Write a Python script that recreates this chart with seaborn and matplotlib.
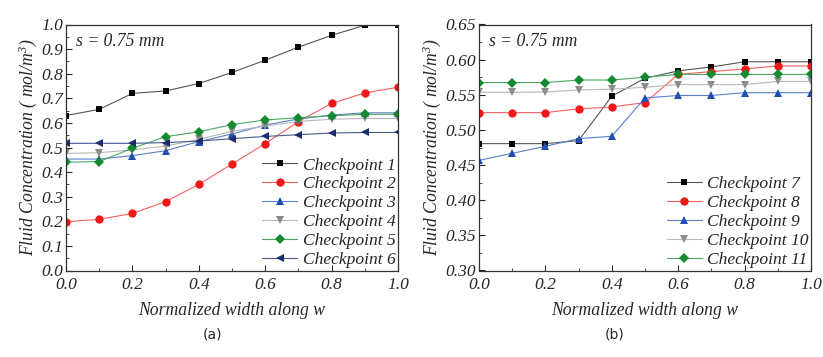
import numpy as np
import pandas as pd
import matplotlib
matplotlib.use('Agg')
import matplotlib.pyplot as plt
import seaborn as sns
from matplotlib.ticker import MultipleLocator
from matplotlib import font_manager

# ширина (нормалізована)
width = [0.0, 0.1, 0.2, 0.3, 0.4, 0.5, 0.6, 0.7, 0.8, 0.9, 1.0]

# панель (a)
cp1 = [0.63, 0.655, 0.72, 0.73, 0.76, 0.805, 0.855, 0.908, 0.956, 0.997, 0.997]
cp2 = [0.198, 0.208, 0.232, 0.28, 0.35, 0.433, 0.516, 0.605, 0.679, 0.722, 0.745]
cp3 = [0.453, 0.453, 0.467, 0.487, 0.524, 0.555, 0.591, 0.616, 0.632, 0.641, 0.641]
cp4 = [0.476, 0.479, 0.49, 0.506, 0.533, 0.566, 0.587, 0.606, 0.615, 0.618, 0.618]
cp5 = [0.44, 0.443, 0.497, 0.544, 0.564, 0.593, 0.612, 0.621, 0.629, 0.635, 0.635]
cp6 = [0.517, 0.517, 0.517, 0.52, 0.526, 0.536, 0.545, 0.552, 0.559, 0.561, 0.561]

# панель (b)
cp7 = [0.4805, 0.4805, 0.4805, 0.4848, 0.548, 0.5735, 0.584, 0.5896, 0.597, 0.597, 0.597]
cp8 = [0.5246, 0.5246, 0.5246, 0.53, 0.5326, 0.539, 0.579, 0.583, 0.5868, 0.591, 0.591]
cp9 = [0.4567, 0.4667, 0.4767, 0.4876, 0.491, 0.5455, 0.549, 0.549, 0.553, 0.553, 0.553]
cp10 = [0.5536, 0.5536, 0.554, 0.5568, 0.558, 0.5607, 0.5645, 0.5645, 0.5645, 0.569, 0.569]
cp11 = [0.5674, 0.5674, 0.5674, 0.571, 0.571, 0.575, 0.579, 0.579, 0.579, 0.579, 0.579]

labels_a = ['Checkpoint 1', 'Checkpoint 2', 'Checkpoint 3', 'Checkpoint 4', 'Checkpoint 5', 'Checkpoint 6']
labels_b = ['Checkpoint 7', 'Checkpoint 8', 'Checkpoint 9', 'Checkpoint 10', 'Checkpoint 11']

xticks = [0.0, 0.2, 0.4, 0.6, 0.8, 1.0]
yticks_a = [0.0, 0.1, 0.2, 0.3, 0.4, 0.5, 0.6, 0.7, 0.8, 0.9, 1.0]
yticks_b = [0.30, 0.35, 0.40, 0.45, 0.50, 0.55, 0.60, 0.65]

sns.set_style('ticks')
plt.rcParams['font.family'] = 'serif'
plt.rcParams['font.serif'] = ['Liberation Serif', 'DejaVu Serif']
plt.rcParams['font.style'] = 'italic'
plt.rcParams['mathtext.fontset'] = 'custom'
plt.rcParams['mathtext.it'] = 'Liberation Serif:italic'
plt.rcParams['mathtext.rm'] = 'Liberation Serif:italic'
plt.rcParams['font.size'] = 12.5

fp = font_manager.FontProperties(family='Liberation Serif', style='italic', size=12.7)
fp_tick = font_manager.FontProperties(family='Liberation Serif', style='italic', size=12.5)
fp_leg = font_manager.FontProperties(family='Liberation Serif', style='italic', size=12.6)

colors = ['#000000', '#f01818', '#1f4fb0', '#8c8c8c', '#138a30', '#1c2d6e']
line_colors = ['#555555', '#f56060', '#5a80c8', '#b8b8b8', '#4aa862', '#4a5a90']
markers = ['s', 'o', '^', 'v', 'D', '<']
msizes = [5, 6, 6, 6, 5, 6]

fig = plt.figure(figsize=(8.23, 3.57), dpi=100)
ax1 = fig.add_axes([66 / 823, 1 - 270.5 / 357, 332 / 823, 246 / 357])
ax2 = fig.add_axes([479 / 823, 1 - 270.5 / 357, 332 / 823, 246 / 357])


def draw(ax, series, labels, yticks, yfmt):
    for i, (vals, lab) in enumerate(zip(series, labels)):
        sns.lineplot(x=width, y=vals, ax=ax, color=line_colors[i], marker=markers[i],
                     markersize=msizes[i], markeredgewidth=0, linewidth=0.8,
                     label=lab, alpha=1)
        ax.lines[-1].set_markerfacecolor(colors[i])
    ax.set_xlim(0, 1.0)
    ax.set_ylim(yticks[0], yticks[-1])
    ax.set_xticks(xticks)
    ax.set_xticklabels(['%.1f' % v for v in xticks], fontproperties=fp_tick)
    ax.set_yticks(yticks)
    ax.set_yticklabels([yfmt % v for v in yticks], fontproperties=fp_tick,
                       va='center_baseline')
    ax.xaxis.set_minor_locator(MultipleLocator(0.1))
    ax.yaxis.set_minor_locator(MultipleLocator((yticks[1] - yticks[0]) / 2))
    ax.tick_params(which='both', direction='in', top=False, right=False, pad=2)
    ax.tick_params(axis='x', pad=5)
    ax.tick_params(which='major', length=4)
    ax.tick_params(which='minor', length=2.5)
    for s in ax.spines.values():
        s.set_linewidth(0.9)
        s.set_color('#333333')
    ax.set_xlabel('Normalized width along w', fontproperties=fp, labelpad=6)
    ax.set_ylabel('Fluid Concentration ( mol/m$^{3}$)', fontproperties=fp, labelpad=2)
    ax.text(0.03, 0.965, 's = 0.75 mm', transform=ax.transAxes, ha='left', va='top',
            fontproperties=fp)
    ax.legend(loc='lower right', frameon=False, handlelength=2.0, handletextpad=0.3,
              labelspacing=0.15, borderaxespad=0.0, borderpad=0.15, prop=fp_leg)


draw(ax1, [cp1, cp2, cp3, cp4, cp5, cp6], labels_a, yticks_a, '%.1f')
draw(ax2, [cp7, cp8, cp9, cp10, cp11], labels_b, yticks_b, '%.2f')

fig.text(213 / 823, 1 - 335 / 357, '(a)', ha='center', va='center',
         family='DejaVu Sans', style='normal', fontsize=10)
fig.text(615 / 823, 1 - 335 / 357, '(b)', ha='center', va='center',
         family='DejaVu Sans', style='normal', fontsize=10)

fig.savefig('out.png', dpi=100)
